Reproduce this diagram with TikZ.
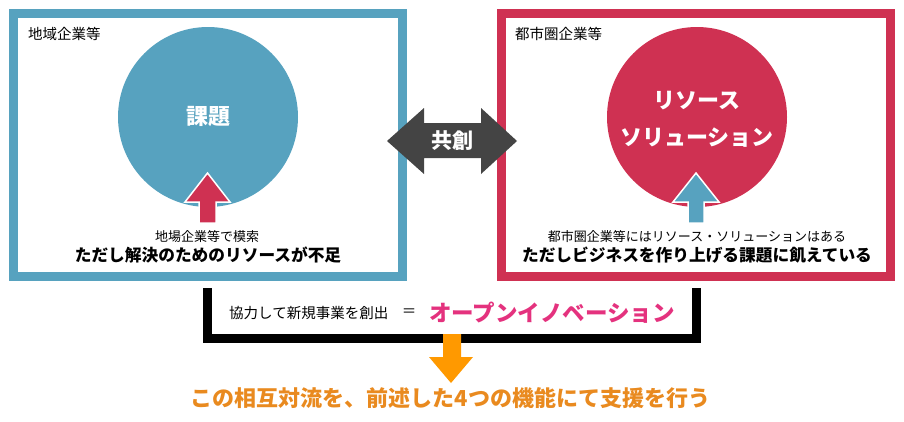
\documentclass[tikz,border=0pt]{standalone}
\usepackage{fontspec}
\setmainfont{Noto Sans CJK JP}
\definecolor{localblue}{HTML}{57A2BF}
\definecolor{cityred}{HTML}{CF3152}
\definecolor{darkgray}{HTML}{444444}
\definecolor{innopink}{HTML}{E4327E}
\definecolor{supportorange}{HTML}{E98A1F}
\definecolor{arroworange}{HTML}{FF9900}
\newcommand{\fs}[1]{\fontsize{#1}{#1}\selectfont}
\begin{document}
\begin{tikzpicture}[x=1pt, y=-1pt,
    frame/.style={draw, line width=9pt, minimum width=389pt, minimum height=263pt, inner sep=0pt},
    ball/.style={circle, minimum size=180pt, inner sep=0pt, text=white, align=center, font=\bfseries\fs{22}},
    title/.style={anchor=west, inner sep=0pt, font=\fs{14.5}},
    note/.style={inner sep=0pt, font=\fs{13}},
    claim/.style={inner sep=0pt, font=\bfseries\fs{16.7}}]
        \useasboundingbox (0,0) rectangle (904,421);

        % Box for local companies
        \node[frame, draw=localblue] (localbox) at (208,145) {};
        \node[title] (localtitle) at (28,34) {地域企業等};
        \node[ball, fill=localblue] (issue) at (208,117) {課題};
        \fill[cityred, draw=white, line width=1.5pt] (199,223) -- (216,223) -- (216,202) -- (230,202)
            -- (207.5,173) -- (185,202) -- (199,202) -- cycle;
        \node[note] (localnote) at (207,237) {地場企業等で模索};
        \node[claim] (localclaim) at (208,255) {ただし解決のためのリソースが不足};

        % Box for city companies
        \node[frame, draw=cityred] (citybox) at (696,145) {};
        \node[title] (citytitle) at (515,34) {都市圏企業等};
        \node[ball, fill=cityred] (resource) at (697,117) {};
        \node[text=white, align=center, font=\bfseries\fs{22}, inner sep=0pt] (resourcetext) at (697,119)
            {リソース\\[15pt]ソリューション};
        \fill[localblue, draw=white, line width=1.5pt] (688,223) -- (704,223) -- (704,202) -- (719,202)
            -- (696,173) -- (673,202) -- (688,202) -- cycle;
        \node[note] (citynote) at (697,237) {都市圏企業等にはリソース・ソリューションはある};
        \node[claim] (cityclaim) at (697,255) {ただしビジネスを作り上げる課題に飢えている};

        % Double arrow between the boxes
        \fill[darkgray] (387,141) -- (424,108) -- (424,123) -- (481,123) -- (481,108) -- (517,141)
            -- (481,174) -- (481,158) -- (424,158) -- (424,174) -- cycle;
        \node[text=white, font=\bfseries\fs{21}, inner sep=0pt] (cocreate) at (452,141) {共創};

        % Bracket and open innovation
        \draw[line width=9pt] (207.5,288) -- (207.5,338.5) -- (696.5,338.5) -- (696.5,288);
        \node[anchor=west, inner sep=0pt, font=\fs{14.5}] (coop) at (229,313) {協力して新規事業を創出};
        \node[inner sep=0pt, font=\fs{14.5}] (equal) at (409,313) {＝};
        \node[anchor=west, inner sep=0pt, text=innopink, font=\bfseries\fs{22.5}] (openinno) at (429,313) {オープンイノベーション};

        % Arrow to the conclusion
        \fill[arroworange] (443,334) -- (461,334) -- (461,357) -- (473,357) -- (451,383) -- (429,357)
            -- (443,357) -- cycle;
        \node[text=supportorange, font=\bfseries\fs{22}, inner sep=0pt] (support) at (450.5,398)
            {この相互対流を、前述した4つの機能にて支援を行う};
\end{tikzpicture}
\end{document}
